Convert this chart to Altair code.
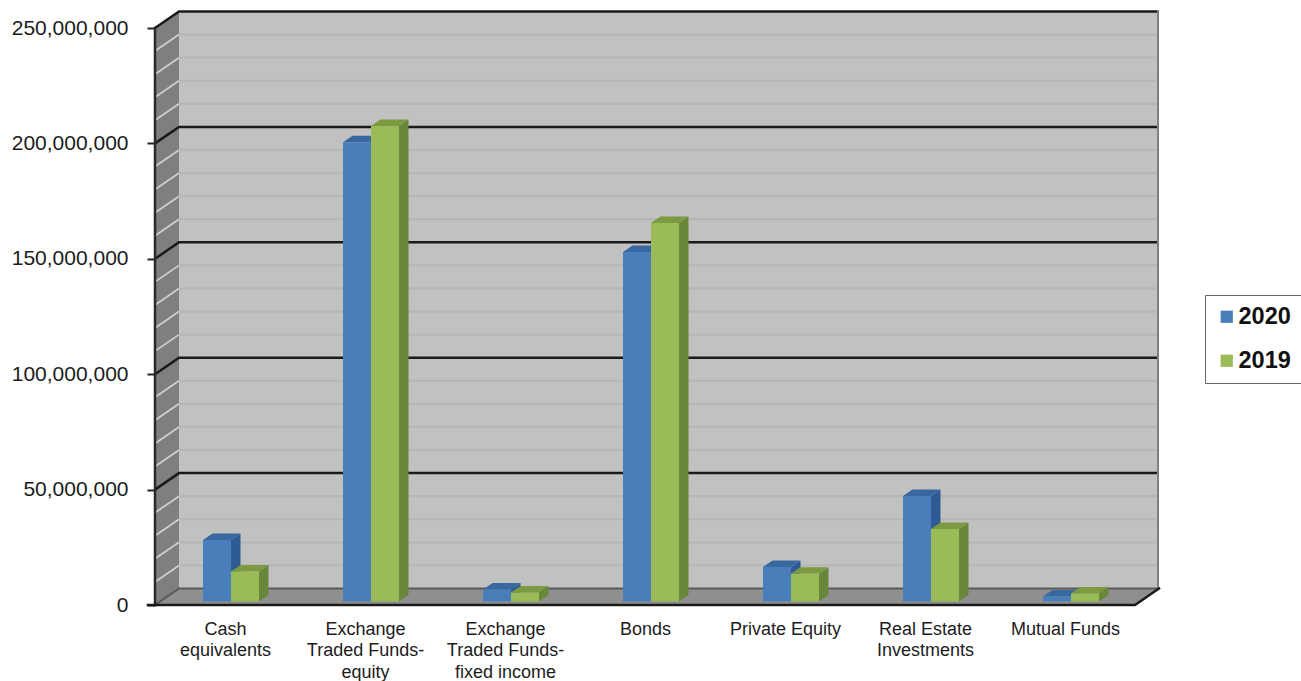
import altair as alt
import pandas as pd

categories = [
    ["Cash", "equivalents"],
    ["Exchange", "Traded Funds-", "equity"],
    ["Exchange", "Traded Funds-", "fixed income"],
    ["Bonds"],
    ["Private Equity"],
    ["Real Estate", "Investments"],
    ["Mutual Funds"],
]
values_2020 = [26600000, 199000000, 5200000, 151400000, 15000000, 45700000, 2200000]
values_2019 = [13000000, 206000000, 3900000, 164000000, 12000000, 31400000, 3500000]
y_ticks = [0, 50000000, 100000000, 150000000, 200000000, 250000000]

BLUE = {"front": "#4a7ebb", "side": "#2f5a94", "top": "#38689f"}
GREEN = {"front": "#9bbb59", "side": "#69873a", "top": "#7b9a41"}

# Plot geometry, in pixels
WIDTH, HEIGHT = 1003, 594
CATEGORY_PX = 140
VALUE_PX = 577 / 250000000


def px_x(px):
    return px / CATEGORY_PX


def px_y(px):
    return px / VALUE_PX


WALL_DX, WALL_DY = px_x(24), px_y(16.5)
BAR_DX, BAR_DY = px_x(9.5), px_y(6.5)
BAR_W = px_x(28)
BAR_SHIFT = px_x(6)
BAR_BASE = px_y(3.5)
X_MAX = WIDTH / CATEGORY_PX
Y_MAX = HEIGHT / VALUE_PX
N = len(categories)

x_scale = alt.Scale(domain=[0, X_MAX], nice=False, zero=False)
y_scale = alt.Scale(domain=[0, Y_MAX], nice=False, zero=False)

label_lookup = "[" + ",".join(
    "[" + ",".join(f"'{line}'" for line in lines) + "]" for lines in categories
) + "]"

x_axis = alt.Axis(
    values=[i + 0.5 for i in range(N)],
    labelExpr=f"{label_lookup}[datum.value - 0.5]",
    title=None,
    grid=False,
    domain=False,
    ticks=False,
    labelOverlap=False,
    labelBound=False,
    labelFlush=False,
    labelFont="Liberation Sans",
    labelFontSize=18,
    labelColor="#1c1c1c",
    labelPadding=15,
    labelLineHeight=21.5,
    labelBaseline="top",
)
y_axis = alt.Axis(
    values=y_ticks,
    labelExpr="format(datum.value, ',')",
    title=None,
    grid=False,
    domain=False,
    tickSize=8,
    tickWidth=2,
    tickColor="#222222",
    labelFont="Liberation Sans",
    labelFontSize=21,
    labelColor="#1c1c1c",
    labelPadding=19,
)

# Every layer shares one axis definition, so they merge into a single pair of axes
X = alt.X("x:Q", scale=x_scale, axis=x_axis)
Y = alt.Y("y:Q", scale=y_scale, axis=y_axis, stack=None)

# Back wall
wall = alt.Chart(pd.DataFrame([{"x": WALL_DX, "x2": X_MAX, "y": WALL_DY, "y2": Y_MAX}])).mark_rect(
    color="#c1c1c1"
).encode(x=X, x2="x2:Q", y=Y, y2="y2:Q")

# Left wall and floor, both slanted parallelograms
left_wall = alt.Chart(pd.DataFrame([
    {"x": 0, "y": 0, "y2": y_ticks[-1]},
    {"x": WALL_DX, "y": WALL_DY, "y2": y_ticks[-1] + WALL_DY},
])).mark_area(color="#7f7f7f", orient="vertical").encode(x=X, y=Y, y2="y2:Q")

floor = alt.Chart(pd.DataFrame([
    {"y": 0, "x": 0, "x2": N},
    {"y": WALL_DY, "x": WALL_DX, "x2": N + WALL_DX},
])).mark_area(color="#8f8f8f", orient="horizontal").encode(x=X, x2="x2:Q", y=Y)

# Gridlines run along the wall and fold onto the left side
minor_ticks = [v for v in range(10000000, 250000000, 10000000) if v % 50000000]
minor_back = pd.DataFrame(
    [{"g": v, "x": x, "y": v + WALL_DY} for v in minor_ticks for x in (WALL_DX, X_MAX)]
)
minor_side = pd.DataFrame(
    [{"g": v, "x": x, "y": v + lift} for v in minor_ticks for x, lift in ((0, 0), (WALL_DX, WALL_DY))]
)
major_rows = []
for v in y_ticks[1:]:
    major_rows += [
        {"g": v, "x": 0, "y": v},
        {"g": v, "x": WALL_DX, "y": v + WALL_DY},
        {"g": v, "x": X_MAX, "y": v + WALL_DY},
    ]

minor_back_lines = alt.Chart(minor_back).mark_line(color="#b6b6b6", strokeWidth=2.2).encode(
    x=X, y=Y, detail="g:N"
)
minor_side_lines = alt.Chart(minor_side).mark_line(color="#cfcfcf", strokeWidth=1.8).encode(
    x=X, y=Y, detail="g:N"
)
major_lines = alt.Chart(pd.DataFrame(major_rows)).mark_line(color="#1a1a1a", strokeWidth=2.5).encode(
    x=X, y=Y, detail="g:N"
)


def edge(points, color, width):
    return alt.Chart(pd.DataFrame(points, columns=["x", "y"])).mark_line(
        color=color, strokeWidth=width, strokeCap="square"
    ).encode(x=X, y=alt.Y("y:Q", scale=y_scale, axis=y_axis), order="i:Q").transform_window(
        i="row_number()"
    )


floor_back = edge([(0, 0), (WALL_DX, WALL_DY), (X_MAX, WALL_DY)], "#5a5a5a", 2)
wall_right = edge([(X_MAX, WALL_DY), (X_MAX, Y_MAX)], "#808080", 2)
y_axis_line = edge([(0, 0), (0, y_ticks[-1])], "#2a2a2a", 2.5)
x_axis_line = edge([(-0.05, 0), (N, 0), (N + WALL_DX, WALL_DY)], "#1a1a1a", 2.5)

# Bars: a front rectangle with a side and a top face behind it
rows = []
for series, year, vals, offset in (
    ("a", "2020", values_2020, -BAR_W),
    ("b", "2019", values_2019, 0),
):
    for i, v in enumerate(vals):
        left = i + 0.5 + BAR_SHIFT + offset
        rows.append({"series": series, "year": year, "cat": i, "left": left, "right": left + BAR_W,
                     "base": BAR_BASE, "top": BAR_BASE + v})
bars = pd.DataFrame(rows)


def faces(series, palette):
    sub = bars[bars.series == series]
    side_rows, top_rows = [], []
    for r in sub.itertuples():
        side_rows += [
            {"cat": r.cat, "x": r.right, "y": r.base, "y2": r.top},
            {"cat": r.cat, "x": r.right + BAR_DX, "y": r.base + BAR_DY, "y2": r.top + BAR_DY},
        ]
        top_rows += [
            {"cat": r.cat, "y": r.top, "x": r.left, "x2": r.right},
            {"cat": r.cat, "y": r.top + BAR_DY, "x": r.left + BAR_DX, "x2": r.right + BAR_DX},
        ]
    side = alt.Chart(pd.DataFrame(side_rows)).mark_area(color=palette["side"], orient="vertical").encode(
        x=X, y=Y, y2="y2:Q", detail="cat:N"
    )
    top = alt.Chart(pd.DataFrame(top_rows)).mark_area(color=palette["top"], orient="horizontal").encode(
        x=X, x2="x2:Q", y=Y, detail="cat:N"
    )
    return side + top


fronts = alt.Chart(bars).mark_rect().encode(
    x=alt.X("left:Q", scale=x_scale, axis=x_axis),
    x2="right:Q",
    y=alt.Y("base:Q", scale=y_scale, axis=y_axis),
    y2="top:Q",
    color=alt.Color(
        "year:N",
        scale=alt.Scale(domain=["2020", "2019"], range=[BLUE["front"], GREEN["front"]]),
        legend=alt.Legend(
            title=None,
            orient="none",
            legendX=1050,
            legendY=284,
            fillColor="#ffffff",
            strokeColor="#666666",
            padding=10,
            symbolType="square",
            symbolSize=150,
            symbolStrokeWidth=0,
            labelFont="Liberation Sans",
            labelFontSize=23.5,
            labelFontWeight="bold",
            labelColor="#111111",
            labelOffset=0,
            rowPadding=19,
        ),
    ),
)

chart = alt.layer(
    wall,
    left_wall,
    floor,
    minor_back_lines,
    minor_side_lines,
    major_lines,
    floor_back,
    wall_right,
    y_axis_line,
    faces("a", BLUE),
    faces("b", GREEN),
    fronts,
    x_axis_line,
).properties(
    width=WIDTH,
    height=HEIGHT,
    padding={"left": 155, "top": 11, "right": 143, "bottom": 76},
    autosize=alt.AutoSizeParams(type="none"),
    background="#ffffff",
).configure_view(stroke=None)

chart.save("out.html", embed_options={"renderer": "svg", "actions": False})
